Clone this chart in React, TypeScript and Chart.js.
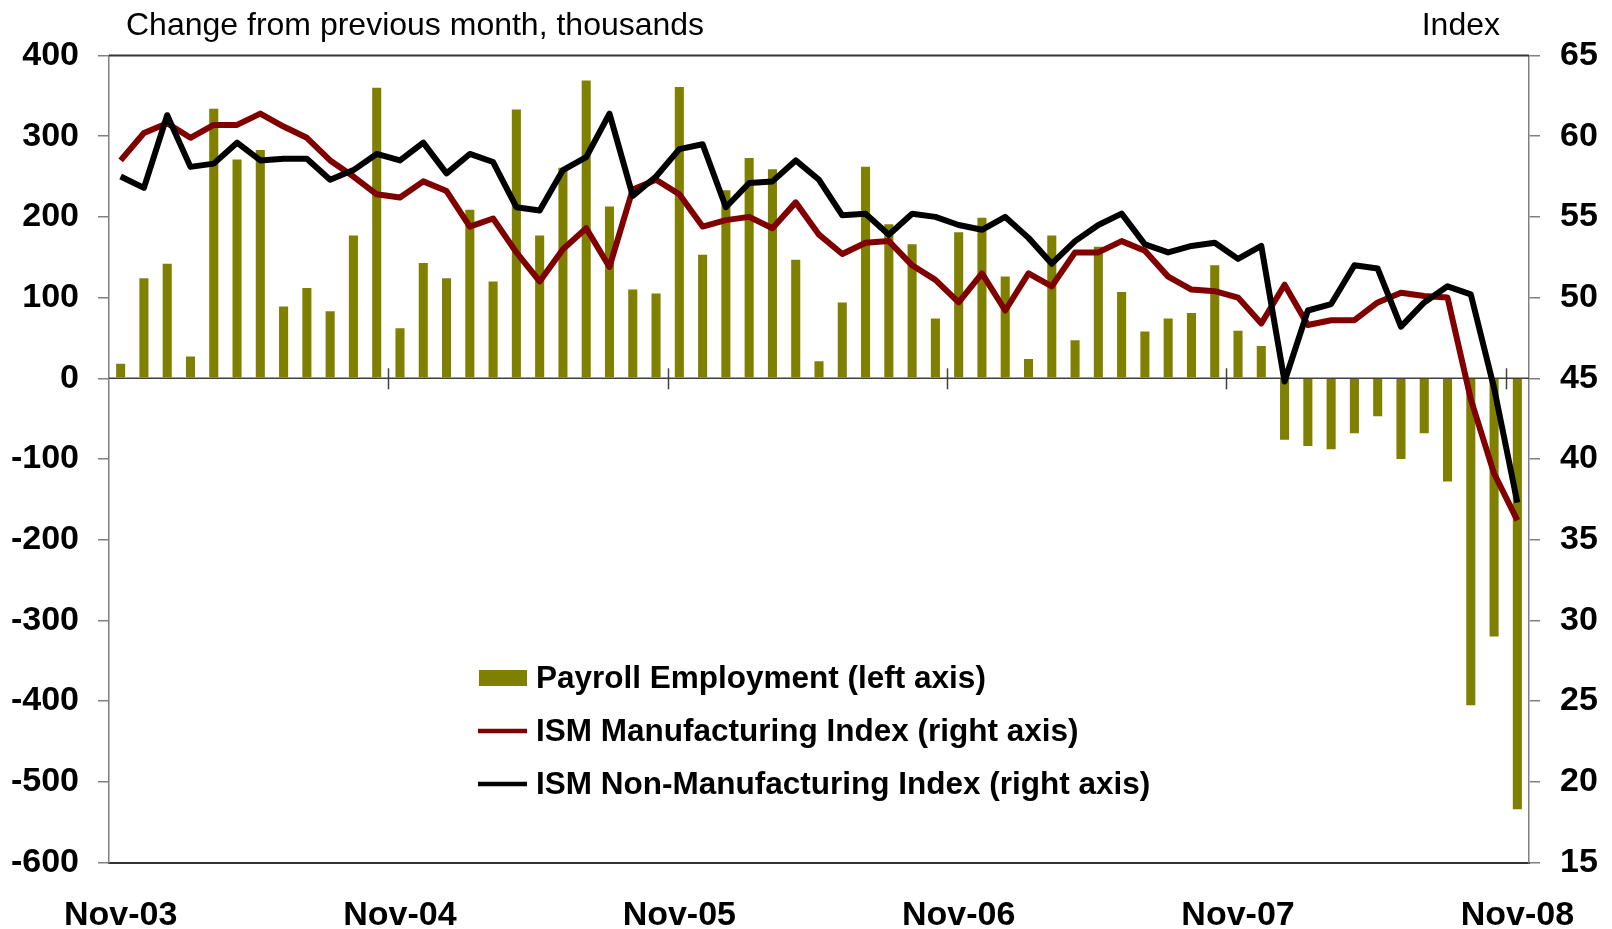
import React, { useEffect, useRef } from "react";
import { Chart, registerables } from "chart.js";

Chart.register(...registerables);

const monthNames = ["Jan", "Feb", "Mar", "Apr", "May", "Jun", "Jul", "Aug", "Sep", "Oct", "Nov", "Dec"];
const categories: string[] = [];
for (let i = 0; i < 61; i++) {
  const m = (10 + i) % 12;
  const yr = 2003 + Math.floor((10 + i) / 12);
  categories.push(`${monthNames[m]}-${String(yr % 100).padStart(2, "0")}`);
}

const tickLabels = ["Nov-03", "Nov-04", "Nov-05", "Nov-06", "Nov-07", "Nov-08"];

const payroll = [
  18, 124, 142, 27, 334, 271, 283, 89, 112, 83,
  177, 360, 62, 143, 124, 209, 120, 333, 177, 261,
  369, 213, 110, 105, 361, 153, 233, 273, 259, 147,
  21, 94, 262, 191, 166, 74, 181, 199, 126, 24,
  177, 47, 163, 107, 58, 74, 81, 140, 59, 40,
  -76, -84, -88, -68, -47, -100, -68, -128, -405, -320, -534,
];

const ismManufacturing = [
  58.5, 60.2, 60.8, 59.9, 60.7, 60.7, 61.4, 60.6, 59.9, 58.5, 57.5, 56.4, 56.2, 57.2, 56.6,
  54.4, 54.9, 52.8, 51.0, 53.0, 54.3, 51.9, 56.7, 57.3, 56.4, 54.4, 54.8, 55.0, 54.3, 55.9,
  53.9, 52.7, 53.4, 53.5, 52.0, 51.1, 49.7, 51.5, 49.2, 51.5, 50.7, 52.8, 52.8, 53.5,
  52.9, 51.3, 50.5, 50.4, 50.0, 48.4, 50.8, 48.3, 48.6, 48.6, 49.7, 50.3, 50.1, 50.0,
  43.7, 39.1, 36.2,
];

const ismNonManufacturing = [
  57.5, 56.8, 61.3, 58.1, 58.3, 59.6, 58.5, 58.6, 58.6, 57.3, 57.9, 58.9, 58.5, 59.6, 57.7,
  58.9, 58.4, 55.6, 55.4, 57.9, 58.7, 61.4, 56.3, 57.5, 59.2, 59.5, 55.6, 57.1, 57.2, 58.5,
  57.3, 55.1, 55.2, 53.9, 55.2, 55.0, 54.5, 54.2, 55.0, 53.7, 52.1, 53.5, 54.5, 55.2,
  53.3, 52.8, 53.2, 53.4, 52.4, 53.2, 44.8, 49.2, 49.6, 52.0, 51.8, 48.2, 49.7, 50.7,
  50.2, 44.4, 37.3,
];

const leftTitle = "Change from previous month, thousands";
const rightTitle = "Index";
const seriesLabels = [
  "Payroll Employment (left axis)",
  "ISM Manufacturing Index (right axis)",
  "ISM Non-Manufacturing Index (right axis)",
];

const FONT = "'Liberation Sans', Arial, sans-serif";
const OLIVE = "#808000";
const MAROON = "#800000";

const framePlugin = {
  id: "framePlugin",
  beforeDatasetsDraw(chart: any) {
    const { ctx, chartArea: a, scales } = chart;
    const y0 = scales.y.getPixelForValue(0);
    ctx.save();
    ctx.strokeStyle = "#333";
    ctx.lineWidth = 2;
    ctx.beginPath();
    ctx.moveTo(a.left, a.top);
    ctx.lineTo(a.right, a.top);
    ctx.stroke();
    ctx.strokeStyle = "#404040";
    ctx.lineWidth = 1.5;
    ctx.beginPath();
    ctx.moveTo(a.left, y0);
    ctx.lineTo(a.right, y0);
    ctx.stroke();
    const xs = scales.x;
    const half = (xs.getPixelForValue(1) - xs.getPixelForValue(0)) / 2;
    categories.forEach((c, i) => {
      if (i > 0 && tickLabels.includes(c)) {
        const px = Math.round(xs.getPixelForValue(i) - half) + 0.5;
        ctx.beginPath();
        ctx.moveTo(px, y0 - 10);
        ctx.lineTo(px, y0 + 11);
        ctx.stroke();
      }
    });
    ctx.restore();
  },
  afterDraw(chart: any) {
    const { ctx } = chart;
    ctx.save();
    ctx.fillStyle = "#000";
    ctx.font = `32px ${FONT}`;
    ctx.textBaseline = "alphabetic";
    ctx.textAlign = "left";
    ctx.fillText(leftTitle, 126, 35);
    ctx.textAlign = "right";
    ctx.fillText(rightTitle, 1500, 35);

    // legend
    const ds = chart.data.datasets;
    const rows = [678, 731, 784];
    ctx.textAlign = "left";
    ctx.textBaseline = "middle";
    ctx.font = `bold 31.5px ${FONT}`;
    ds.forEach((d: any, i: number) => {
      const yc = rows[i];
      if (d.type === "line") {
        ctx.strokeStyle = d.borderColor;
        ctx.lineWidth = 4.5;
        ctx.beginPath();
        ctx.moveTo(478, yc);
        ctx.lineTo(527, yc);
        ctx.stroke();
      } else {
        ctx.fillStyle = d.backgroundColor;
        ctx.fillRect(479, yc - 8, 48, 16);
      }
      ctx.fillStyle = "#000";
      ctx.fillText(d.label, 536, yc + 1);
    });
    ctx.restore();
  },
};

export default function App() {
  const canvasRef = useRef<HTMLCanvasElement | null>(null);

  useEffect(() => {
    document.body.style.margin = "0";
    const canvas = canvasRef.current;
    if (!canvas) return;
    const chart = new Chart(canvas, {
      type: "bar",
      data: {
        labels: categories,
        datasets: [
          {
            type: "bar",
            label: seriesLabels[0],
            data: payroll,
            backgroundColor: OLIVE,
            borderWidth: 0,
            yAxisID: "y",
            barPercentage: 0.39,
            categoryPercentage: 1,
            order: 3,
          },
          {
            type: "line",
            label: seriesLabels[1],
            data: ismManufacturing,
            borderColor: MAROON,
            backgroundColor: MAROON,
            borderWidth: 6,
            pointRadius: 0,
            tension: 0,
            borderJoinStyle: "round",
            yAxisID: "y1",
            order: 2,
          },
          {
            type: "line",
            label: seriesLabels[2],
            data: ismNonManufacturing,
            borderColor: "#000000",
            backgroundColor: "#000000",
            borderWidth: 6,
            pointRadius: 0,
            tension: 0,
            borderJoinStyle: "round",
            yAxisID: "y1",
            order: 1,
          },
        ] as any,
      },
      options: {
        responsive: false,
        animation: false,
        layout: { padding: { top: 55.5, left: 0, right: 0, bottom: 0 } },
        plugins: {
          legend: { display: false },
          tooltip: { enabled: false },
          title: { display: false },
        },
        scales: {
          x: {
            type: "category",
            offset: true,
            grid: { display: false, drawTicks: false },
            border: { display: true, color: "#333", width: 2 },
            ticks: {
              autoSkip: false,
              maxRotation: 0,
              minRotation: 0,
              padding: 33,
              color: "#000",
              font: { family: FONT, size: 34, weight: "bold" },
              callback: (_v: any, idx: number) =>
                tickLabels.includes(categories[idx]) ? categories[idx] : "",
            },
            afterFit: (s: any) => {
              s.height = 66.5;
            },
          },
          y: {
            position: "left",
            min: -600,
            max: 400,
            grid: { drawOnChartArea: false, drawTicks: true, tickLength: 11, color: "#808080", lineWidth: 1.5 },
            border: { display: true, color: "#808080", width: 1.5 },
            ticks: {
              stepSize: 100,
              padding: 19,
              color: "#000",
              font: { family: FONT, size: 34, weight: "bold" },
            },
            afterFit: (s: any) => {
              s.width = 109;
            },
          },
          y1: {
            position: "right",
            min: 15,
            max: 65,
            grid: { drawOnChartArea: false, drawTicks: true, tickLength: 11, color: "#808080", lineWidth: 1.5 },
            border: { display: true, color: "#808080", width: 1.5 },
            ticks: {
              stepSize: 5,
              padding: 20,
              color: "#000",
              font: { family: FONT, size: 34, weight: "bold" },
            },
            afterFit: (s: any) => {
              s.width = 83;
            },
          },
        },
      } as any,
      plugins: [framePlugin],
    });
    return () => chart.destroy();
  }, []);

  return (
    <div style={{ width: 1612, height: 929, background: "#fff" }}>
      <canvas ref={canvasRef} width={1612} height={929} style={{ display: "block" }} />
    </div>
  );
}
